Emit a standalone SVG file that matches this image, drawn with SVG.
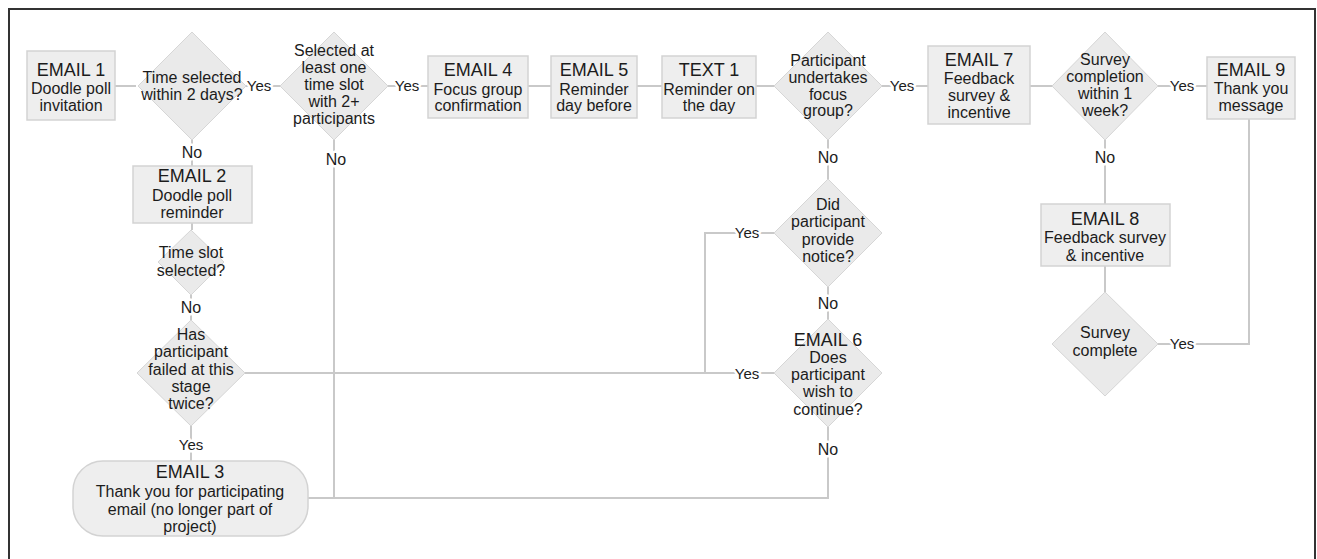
<svg xmlns="http://www.w3.org/2000/svg" width="1317" height="559" viewBox="0 0 1317 559">
  <style>
    .box { fill: #eeeeee; stroke: #d3d3d3; stroke-width: 1.5; }
    .dia { fill: #eaeaea; stroke: #d6d6d6; stroke-width: 1; }
    .wire { fill: none; stroke: #c9c9c9; stroke-width: 2; }
    text { font-family: "Liberation Sans", Arial, sans-serif; fill: #1c1c1c; text-anchor: middle; }
    .t { font-size: 18px; }
    .b { font-size: 16px; }
    .lbl { font-size: 15px; stroke: #ffffff; stroke-width: 5; paint-order: stroke; stroke-linejoin: round; }
    .no { font-size: 16px; }
  </style>

  <rect width="1317" height="559" fill="#ffffff"/>
  <!-- outer frame -->
  <path d="M9,560 V9 H1315 V560" fill="none" stroke="#333333" stroke-width="2"/>

  <!-- connectors -->
  <g id="connectors">
    <path class="wire" d="M115,86 H136"/>
    <path class="wire" d="M245,86 H280"/>
    <path class="wire" d="M388,86 H428"/>
    <path class="wire" d="M528,86 H551"/>
    <path class="wire" d="M637,86 H662"/>
    <path class="wire" d="M756,86 H774"/>
    <path class="wire" d="M882,86 H928"/>
    <path class="wire" d="M1030,86 H1052"/>
    <path class="wire" d="M1158,86 H1207"/>
    <path class="wire" d="M192,140 V166"/>
    <path class="wire" d="M192,223 V230"/>
    <path class="wire" d="M191,295 V320"/>
    <path class="wire" d="M191,426 V461"/>
    <path class="wire" d="M334,140 V498"/>
    <path class="wire" d="M308,498 H828 V427"/>
    <path class="wire" d="M245,373 H774"/>
    <path class="wire" d="M774,233 H705 V373"/>
    <path class="wire" d="M828,140 V179"/>
    <path class="wire" d="M828,287 V319"/>
    <path class="wire" d="M1105,140 V204"/>
    <path class="wire" d="M1105,266 V292"/>
    <path class="wire" d="M1158,344 H1249 V119"/>

    <text class="lbl" x="259" y="91">Yes</text>
    <text class="lbl" x="407" y="91">Yes</text>
    <text class="lbl" x="902" y="91">Yes</text>
    <text class="lbl" x="1182" y="91">Yes</text>
    <text class="lbl" x="747" y="238">Yes</text>
    <text class="lbl" x="747" y="379">Yes</text>
    <text class="lbl" x="1182" y="349">Yes</text>
    <text class="lbl" x="191" y="450">Yes</text>
    <text class="lbl no" x="192" y="158">No</text>
    <text class="lbl no" x="336" y="165">No</text>
    <text class="lbl no" x="828" y="163">No</text>
    <text class="lbl no" x="828" y="309">No</text>
    <text class="lbl no" x="1105" y="163">No</text>
    <text class="lbl no" x="191" y="313">No</text>
    <text class="lbl no" x="828" y="455">No</text>
  </g>

  <g id="email1">
    <rect class="box" x="27" y="51" width="88" height="69"/>
    <text class="t" x="71" y="76">EMAIL 1</text>
    <text class="b" x="71" y="94">Doodle poll</text>
    <text class="b" x="71" y="111">invitation</text>
  </g>

  <g id="time-selected">
    <polygon class="dia" points="192,32 246,86 192,140 138,86"/>
    <text class="b" x="192" y="83">Time selected</text>
    <text class="b" x="192" y="100">within 2 days?</text>
  </g>

  <g id="slot-chosen">
    <polygon class="dia" points="334,32 388,86 334,140 280,86"/>
    <text class="b" x="334" y="56">Selected at</text>
    <text class="b" x="334" y="73">least one</text>
    <text class="b" x="334" y="90">time slot</text>
    <text class="b" x="334" y="107">with 2+</text>
    <text class="b" x="334" y="124">participants</text>
  </g>

  <g id="email4">
    <rect class="box" x="428" y="56" width="100" height="62"/>
    <text class="t" x="478" y="76">EMAIL 4</text>
    <text class="b" x="478" y="95">Focus group</text>
    <text class="b" x="478" y="111">confirmation</text>
  </g>

  <g id="email5">
    <rect class="box" x="551" y="56" width="86" height="62"/>
    <text class="t" x="594" y="76">EMAIL 5</text>
    <text class="b" x="594" y="95">Reminder</text>
    <text class="b" x="594" y="111">day before</text>
  </g>

  <g id="text1">
    <rect class="box" x="662" y="56" width="94" height="62"/>
    <text class="t" x="709" y="76">TEXT 1</text>
    <text class="b" x="709" y="95">Reminder on</text>
    <text class="b" x="709" y="111">the day</text>
  </g>

  <g id="undertakes">
    <polygon class="dia" points="828,32 882,86 828,140 774,86"/>
    <text class="b" x="828" y="66">Participant</text>
    <text class="b" x="828" y="83">undertakes</text>
    <text class="b" x="828" y="100">focus</text>
    <text class="b" x="828" y="116">group?</text>
  </g>

  <g id="email7">
    <rect class="box" x="928" y="46" width="102" height="78"/>
    <text class="t" x="979" y="66">EMAIL 7</text>
    <text class="b" x="979" y="84">Feedback</text>
    <text class="b" x="979" y="101">survey &amp;</text>
    <text class="b" x="979" y="118">incentive</text>
  </g>

  <g id="survey-week">
    <polygon class="dia" points="1105,32 1158,86 1105,140 1052,86"/>
    <text class="b" x="1105" y="65">Survey</text>
    <text class="b" x="1105" y="82">completion</text>
    <text class="b" x="1105" y="99">within 1</text>
    <text class="b" x="1105" y="116">week?</text>
  </g>

  <g id="email9">
    <rect class="box" x="1207" y="57" width="88" height="62"/>
    <text class="t" x="1251" y="76">EMAIL 9</text>
    <text class="b" x="1251" y="94">Thank you</text>
    <text class="b" x="1251" y="111">message</text>
  </g>

  <g id="email2">
    <rect class="box" x="133" y="166" width="119" height="57"/>
    <text class="t" x="192" y="182">EMAIL 2</text>
    <text class="b" x="192" y="201">Doodle poll</text>
    <text class="b" x="192" y="218">reminder</text>
  </g>

  <g id="slot-selected">
    <polygon class="dia" points="191,230 224,262 191,295 158,262"/>
    <text class="b" x="191" y="258">Time slot</text>
    <text class="b" x="191" y="276">selected?</text>
  </g>

  <g id="failed-twice">
    <polygon class="dia" points="191,320 245,373 191,426 137,373"/>
    <text class="b" x="191" y="340">Has</text>
    <text class="b" x="191" y="357">participant</text>
    <text class="b" x="191" y="375">failed at this</text>
    <text class="b" x="191" y="392">stage</text>
    <text class="b" x="191" y="409">twice?</text>
  </g>

  <g id="email3">
    <rect class="box" x="73" y="461" width="235" height="75" rx="30" ry="30"/>
    <text class="t" x="190" y="478">EMAIL 3</text>
    <text class="b" x="190" y="497">Thank you for participating</text>
    <text class="b" x="190" y="515">email (no longer part of</text>
    <text class="b" x="190" y="532">project)</text>
  </g>

  <g id="notice">
    <polygon class="dia" points="828,179 882,233 828,287 774,233"/>
    <text class="b" x="828" y="210">Did</text>
    <text class="b" x="828" y="227">participant</text>
    <text class="b" x="828" y="245">provide</text>
    <text class="b" x="828" y="262">notice?</text>
  </g>

  <g id="email6">
    <polygon class="dia" points="828,319 882,373 828,427 774,373"/>
    <text class="t" x="828" y="346">EMAIL 6</text>
    <text class="b" x="828" y="363">Does</text>
    <text class="b" x="828" y="380">participant</text>
    <text class="b" x="828" y="397">wish to</text>
    <text class="b" x="828" y="415">continue?</text>
  </g>

  <g id="email8">
    <rect class="box" x="1041" y="204" width="129" height="62"/>
    <text class="t" x="1105" y="225">EMAIL 8</text>
    <text class="b" x="1105" y="243">Feedback survey</text>
    <text class="b" x="1105" y="261">&amp; incentive</text>
  </g>

  <g id="survey-complete">
    <polygon class="dia" points="1105,292 1158,344 1105,396 1052,344"/>
    <text class="b" x="1105" y="338">Survey</text>
    <text class="b" x="1105" y="356">complete</text>
  </g>
</svg>
